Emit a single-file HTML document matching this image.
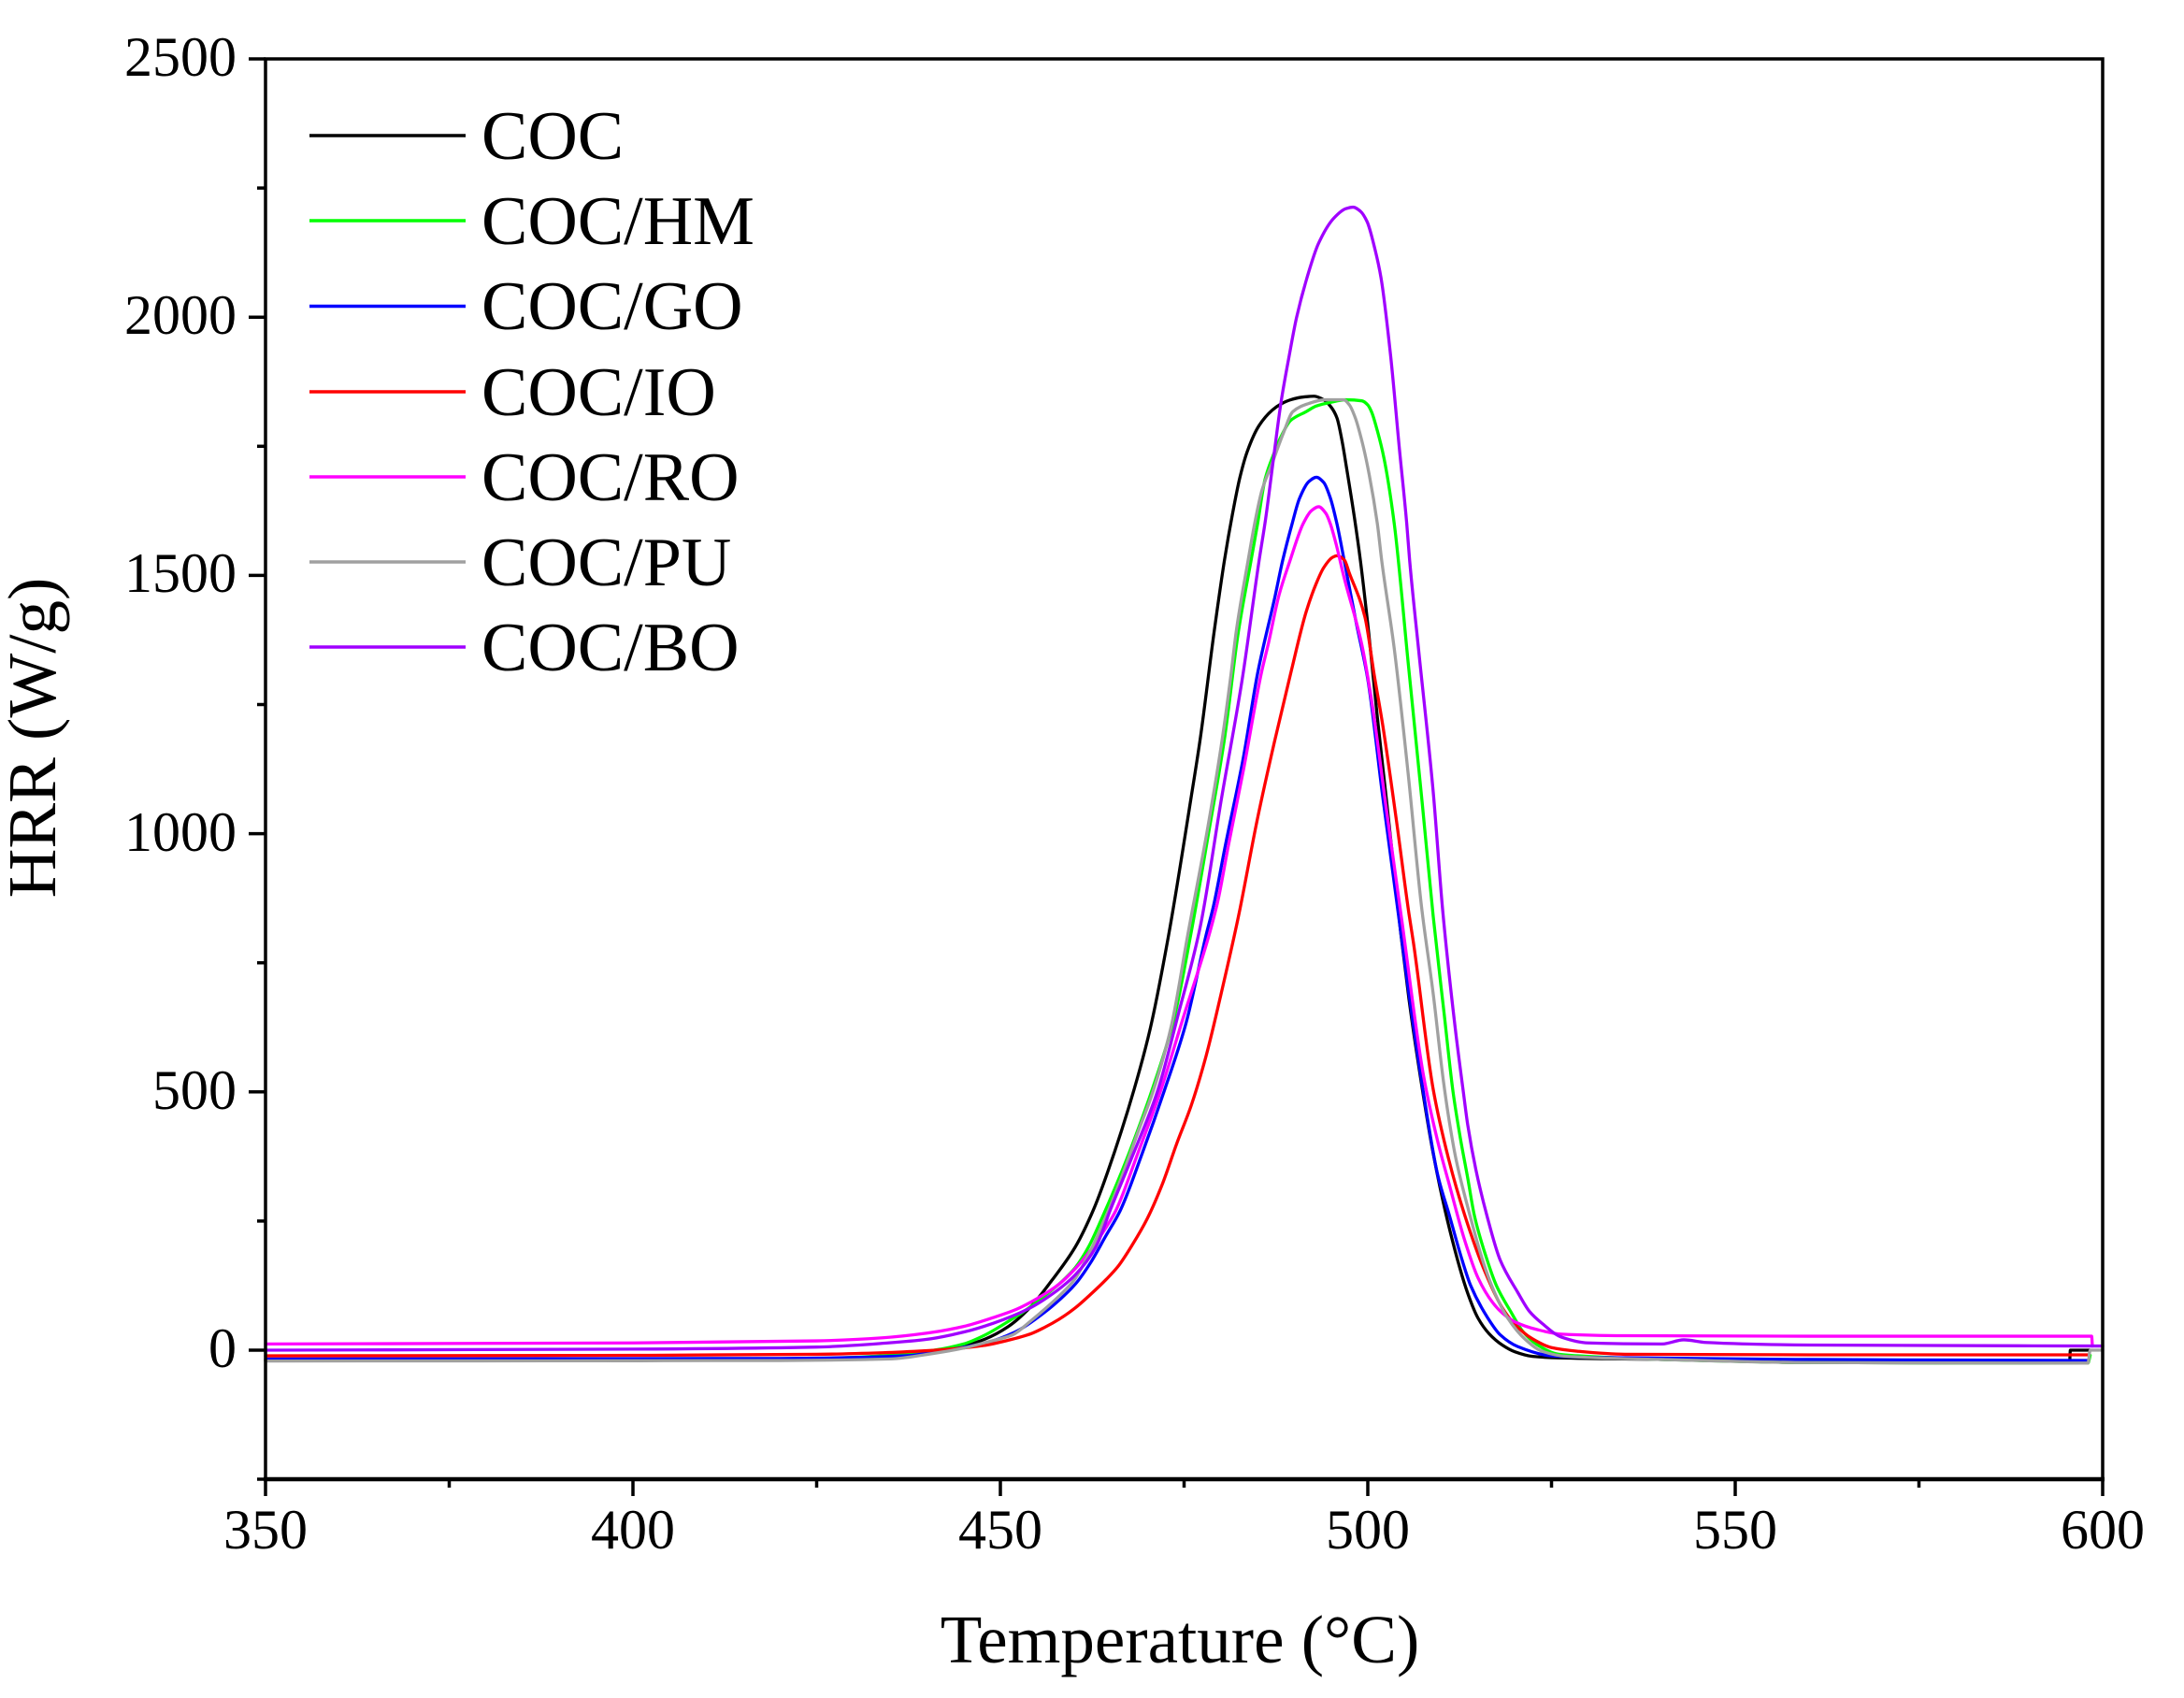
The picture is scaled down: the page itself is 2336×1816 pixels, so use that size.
<!DOCTYPE html>
<html>
<head>
<meta charset="utf-8">
<style>
html,body{margin:0;padding:0;background:#fff;}
svg{display:block;}
text{font-family:"Liberation Serif","Times New Roman",serif;fill:#000;}
</style>
</head>
<body>
<svg id="chart" width="2336" height="1816" viewBox="0 0 2336 1816" xmlns="http://www.w3.org/2000/svg">
<rect x="0" y="0" width="2336" height="1816" fill="#fff"/>

<!-- curves in data coords: x=7.86*T-2467, y=1444-0.5524*HRR -->
<g transform="matrix(7.86 0 0 -0.5524 -2467 1444)" fill="none" stroke-linejoin="round" stroke-linecap="round">
<polyline class="c" vector-effect="non-scaling-stroke" stroke="#000000" stroke-width="3.3" points="350,-20 400,-20 425,-17 435,-12 440,-5 445,8 448,22 451,45 454,82 457,135 460.2,200 462.7,273 464.6,345 468.2,505 470.4,623 472.9,804 475.9,1065 477.2,1184 479.1,1392 480.5,1530 481.6,1620 482.6,1690 483.6,1740 485.2,1790 487,1820 488.2,1832 489.5,1840 491,1845 492.7,1847 494,1840 495,1826 495.8,1805 496.5,1760 497.1,1709 498.2,1610 499,1528 500.1,1392 501.3,1225 502.6,1057 503.6,925 504.5,806 505.6,680 506.8,562 508.9,381 511.2,230 513.6,110 515,62 516.5,32 518.3,10 520,-3 522.4,-12 526,-15 540,-18 560,-24 595.5,-25 595.6,0 598.3,0"/>
<polyline class="c" vector-effect="non-scaling-stroke" stroke="#00ff00" stroke-width="3.3" points="350,-20 420,-18 435,-10 441,0 445,12 448,30 451,55 453.5,78 456,105 458.3,132 460.2,160 462,200 463.8,255 466.5,345 468.8,430 470.6,502 473.6,640 475.9,804 478.5,1015 480.5,1184 482.4,1392 484.1,1528 485,1600 486,1685 487.2,1735 488.2,1769 489.5,1800 491.6,1817 493,1828 494.9,1835 497,1840 499.2,1838 500,1830 500.5,1817 501.3,1780 502.2,1727 503.6,1600 505.5,1330 507.4,1060 508.9,840 510.4,650 511.6,500 512.6,410 513.6,333 514.5,261 516,185 517.5,125 519.6,71 521,38 523,11 526,-8 530,-12 540,-18 560,-24 598,-25 598.3,-10"/>
<polyline class="c" vector-effect="non-scaling-stroke" stroke="#0000ff" stroke-width="3.3" points="350,-17 420,-16 437,-11 443,1 448,14 452,35 455.9,72 460.2,128 462.3,170 464.3,220 466.3,270 469.3,381 472.3,502 475.3,635 478,804 479,860 480.6,976 483.1,1150 485,1310 487.4,1461 488.4,1528 489.7,1600 490.7,1649 492,1682 493,1690 494,1680 494.9,1650 495.8,1600 496.8,1528 498.4,1410 500,1299 502,1075 504.2,840 505.5,700 507.4,514 509.5,340 511.1,261 512.8,176 514,125 516.3,63 518,30 520.4,7 525,-11 530,-14 560,-18 598,-20"/>
<polyline class="c" vector-effect="non-scaling-stroke" stroke="#ff0000" stroke-width="3.3" points="350,-11 400,-10 425,-8 434,-5 440,-1 444,3 447.7,9 451,19 454.2,32 456,44 458,60 460.2,82 462.2,107 464.4,137 466,162 468,205 470,255 472,320 474,400 476,475 478,570 480.2,700 482.4,840 485,1030 487.3,1178 489.5,1310 491.6,1429 493,1485 494,1515 495.2,1535 495.8,1538 496.8,1530 497.5,1504 499.6,1420 500.9,1305 502,1213 503.9,1025 505.6,845 506.2,790 508.9,505 511,370 513.2,261 516,150 518.3,82 520,50 522.4,22 525,5 528.5,-2 535,-8 560,-9 598,-9"/>
<polyline class="c" vector-effect="non-scaling-stroke" stroke="#ff00ff" stroke-width="3.3" points="350,12 400,14 425,18 434,24 440,33 445,46 449,63 452,78 455,100 458,128 460.2,158 462.4,196 464.4,238 465.7,270 468.7,381 471.8,502 474.8,640 478.4,804 479.6,870 481,975 483.1,1125 485.5,1310 486.5,1370 487.9,1461 489.4,1528 491.2,1600 492.3,1625 493.3,1633 494.3,1620 494.9,1600 495.7,1560 496.7,1500 499.2,1365 500.6,1250 502.5,1050 504.6,835 507.6,530 509.5,405 511.1,320 513.2,212 515,140 517,92 518.3,72 520,55 523,40 526.4,31 535,28 560,27 598.5,27 598.6,8"/>
<polyline class="c" vector-effect="non-scaling-stroke" stroke="#a0a0a0" stroke-width="3.3" points="350,-21 420,-20 435,-17 441,-6 445,4 448,15 451.7,30 454,55 458,105 460,135 462,185 464.4,260 466.5,335 468.8,425 470.8,502 473.3,630 475.5,804 478.2,1010 480.2,1184 481.4,1310 482.1,1392 483.7,1528 484.6,1600 485.6,1665 486.9,1714 488.5,1775 489.8,1817 492,1833 494.1,1840 496.7,1840 497.5,1830 498.3,1805 499.2,1760 500,1709 501.3,1600 501.9,1528 503.6,1358 505.5,1115 507.3,860 508.9,690 510.3,520 511.1,442 512,370 513.9,261 515.5,180 517,120 519,63 521.5,20 523.7,-2 527,-12 540,-18 560,-24 598,-25 598.3,0 600,0"/>
<polyline class="c" vector-effect="non-scaling-stroke" stroke="#a000ff" stroke-width="3.3" points="350,0 400,2 425,6 434.7,14 440,21 445,35 449,52 453.8,80 457,108 460.2,146 463,200 465,273 467.8,370 471.4,502 474.2,650 477.2,820 480.1,1069 482.9,1298 485.2,1528 486.1,1610 487.2,1730 488.2,1836 489.3,1925 490.3,1999 491.8,2080 493.3,2143 495.4,2192 497,2210 498,2213 499,2205 499.9,2185 501,2130 501.8,2076 503.1,1926 504.3,1745 505.3,1600 505.7,1528 506.9,1358 508.9,1081 510.2,850 511.9,623 513,500 513.6,436 514.7,350 516.2,261 518,175 520.4,112 522,75 523.7,52 526.4,25 530,14 540,12 543,20 546,15 560,10 600,8"/>
</g>

<!-- axes box -->
<rect x="284" y="63" width="1965" height="1519" fill="none" stroke="#000" stroke-width="3.5"/>
<line x1="282" y1="1582" x2="2251" y2="1582" stroke="#000" stroke-width="4.5"/>

<!-- y ticks -->
<g stroke="#000" stroke-width="3.5">
<line x1="266" y1="63" x2="284" y2="63"/>
<line x1="266" y1="339.2" x2="284" y2="339.2"/>
<line x1="266" y1="615.4" x2="284" y2="615.4"/>
<line x1="266" y1="891.6" x2="284" y2="891.6"/>
<line x1="266" y1="1167.8" x2="284" y2="1167.8"/>
<line x1="266" y1="1444" x2="284" y2="1444"/>
<line x1="275" y1="201.1" x2="284" y2="201.1"/>
<line x1="275" y1="477.3" x2="284" y2="477.3"/>
<line x1="275" y1="753.5" x2="284" y2="753.5"/>
<line x1="275" y1="1029.7" x2="284" y2="1029.7"/>
<line x1="275" y1="1305.9" x2="284" y2="1305.9"/>
<line x1="275" y1="1582" x2="284" y2="1582"/>
</g>
<!-- x ticks -->
<g stroke="#000" stroke-width="3.5">
<line x1="284" y1="1582" x2="284" y2="1600"/>
<line x1="677" y1="1582" x2="677" y2="1600"/>
<line x1="1070" y1="1582" x2="1070" y2="1600"/>
<line x1="1463" y1="1582" x2="1463" y2="1600"/>
<line x1="1856" y1="1582" x2="1856" y2="1600"/>
<line x1="2249" y1="1582" x2="2249" y2="1600"/>
<line x1="480.5" y1="1582" x2="480.5" y2="1591"/>
<line x1="873.5" y1="1582" x2="873.5" y2="1591"/>
<line x1="1266.5" y1="1582" x2="1266.5" y2="1591"/>
<line x1="1659.5" y1="1582" x2="1659.5" y2="1591"/>
<line x1="2052.5" y1="1582" x2="2052.5" y2="1591"/>
</g>

<!-- y tick labels -->
<g font-size="60" text-anchor="end">
<text x="253" y="81">2500</text>
<text x="253" y="357">2000</text>
<text x="253" y="633">1500</text>
<text x="253" y="910">1000</text>
<text x="253" y="1186">500</text>
<text x="253" y="1462">0</text>
</g>
<!-- x tick labels -->
<g font-size="60" text-anchor="middle">
<text x="284" y="1656">350</text>
<text x="677" y="1656">400</text>
<text x="1070" y="1656">450</text>
<text x="1463" y="1656">500</text>
<text x="1856" y="1656">550</text>
<text x="2249" y="1656">600</text>
</g>

<!-- axis titles -->
<text x="1262" y="1778" font-size="73" text-anchor="middle">Temperature (°C)</text>
<text transform="translate(59,789) rotate(-90)" font-size="73" text-anchor="middle">HRR (W/g)</text>

<!-- legend -->
<g stroke-width="3.5">
<line x1="331" y1="145" x2="498" y2="145" stroke="#000000"/>
<line x1="331" y1="236" x2="498" y2="236" stroke="#00ff00"/>
<line x1="331" y1="327.5" x2="498" y2="327.5" stroke="#0000ff"/>
<line x1="331" y1="419" x2="498" y2="419" stroke="#ff0000"/>
<line x1="331" y1="510" x2="498" y2="510" stroke="#ff00ff"/>
<line x1="331" y1="601" x2="498" y2="601" stroke="#a0a0a0"/>
<line x1="331" y1="692" x2="498" y2="692" stroke="#a000ff"/>
</g>
<g font-size="74">
<text x="515" y="170">COC</text>
<text x="515" y="261">COC/HM</text>
<text x="515" y="352">COC/GO</text>
<text x="515" y="444">COC/IO</text>
<text x="515" y="535">COC/RO</text>
<text x="515" y="626">COC/PU</text>
<text x="515" y="717">COC/BO</text>
</g>
</svg>
<script>
(function(){
  var pls = document.querySelectorAll('polyline.c');
  for (var k = 0; k < pls.length; k++) {
    var pl = pls[k];
    var p = pl.getAttribute('points').trim().split(/\s+/).map(function(s){return s.split(',').map(Number);});
    var n = p.length, d = [], m = [], i;
    for (i = 0; i < n - 1; i++) d.push((p[i+1][1] - p[i][1]) / (p[i+1][0] - p[i][0]));
    m[0] = d[0]; m[n-1] = d[n-2];
    for (i = 1; i < n - 1; i++) {
      if (d[i-1] * d[i] <= 0) { m[i] = 0; }
      else {
        var h0 = p[i][0] - p[i-1][0], h1 = p[i+1][0] - p[i][0];
        var w1 = 2*h1 + h0, w2 = h1 + 2*h0;
        m[i] = (w1 + w2) / (w1 / d[i-1] + w2 / d[i]);
      }
    }
    var s = 'M' + p[0][0] + ',' + p[0][1];
    for (i = 0; i < n - 1; i++) {
      var h = (p[i+1][0] - p[i][0]) / 3;
      s += ' C' + (p[i][0] + h) + ',' + (p[i][1] + m[i]*h) + ' ' + (p[i+1][0] - h) + ',' + (p[i+1][1] - m[i+1]*h) + ' ' + p[i+1][0] + ',' + p[i+1][1];
    }
    var path = document.createElementNS('http://www.w3.org/2000/svg', 'path');
    path.setAttribute('d', s);
    ['stroke','stroke-width','vector-effect'].forEach(function(a){ path.setAttribute(a, pl.getAttribute(a)); });
    pl.parentNode.replaceChild(path, pl);
  }
})();
</script>
</body>
</html>
